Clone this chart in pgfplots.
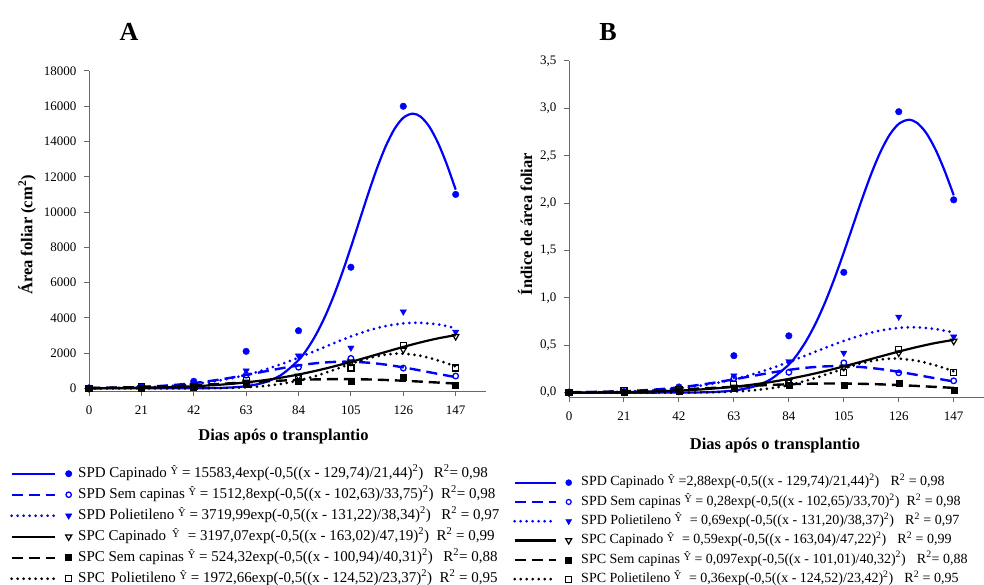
\documentclass[border=0pt]{standalone}
\usepackage{fontspec}
\setmainfont{Liberation Serif}
\usepackage{pgfplots}
\pgfplotsset{compat=1.18}

\definecolor{axisgray}{RGB}{105,105,105}
\definecolor{spdblue}{RGB}{0,0,255}

\newcommand\yhat{\raisebox{0.45ex}{\fontsize{10.5}{10.5}\selectfont Ŷ}}
\newcommand\sq{\textsuperscript{2}}

\pgfplotsset{
  growth/.style={
    scale only axis,
    axis lines=left,
    axis line style={-, axisgray, line width=1pt},
    tick style={axisgray, line width=1pt},
    tick align=outside,
    major tick length=5pt,
    clip=false,
    xmin=0, xmax=159,
    xtick={0,21,42,63,84,105,126,147},
    scaled ticks=false,
    /pgf/number format/assume math mode=true,
    tick label style={font=\fontsize{13}{13}\selectfont},
    xticklabel style={yshift=-6pt},
    yticklabel style={xshift=-4pt},
    label style={font=\bfseries\fontsize{16.5}{16.5}\selectfont},
    legend cell align=left,
  },
  % fitted curves
  spdcap/.style={spdblue, line width=2.2pt, smooth},
  spdsem/.style={spdblue, line width=2.4pt, dash pattern=on 11pt off 6pt, smooth},
  spdpol/.style={spdblue, line width=3pt, line cap=round, dash pattern=on 0pt off 6pt, smooth},
  spccap/.style={black, line width=2.2pt, smooth},
  spcsem/.style={black, line width=2.4pt, dash pattern=on 11pt off 6pt, smooth},
  spcpol/.style={black, line width=3pt, line cap=round, dash pattern=on 0pt off 6pt, smooth},
  % observed means
  mspdcap/.style={only marks, mark=*, mark size=3.3pt, mark options={spdblue, fill=spdblue, solid}},
  mspdsem/.style={only marks, mark=o, mark size=2.8pt, mark options={spdblue, fill=white, line width=1.3pt, solid}},
  mspdpol/.style={only marks, mark=triangle*, mark size=3.7pt, mark options={spdblue, fill=spdblue, rotate=180, solid}},
  mspccap/.style={only marks, mark=triangle, mark size=3.7pt, mark options={black, fill=white, line width=1.2pt, rotate=180, solid}},
  mspcsem/.style={only marks, mark=square*, mark size=3pt, mark options={black, fill=black, solid}},
  mspcpol/.style={only marks, mark=square, mark size=3pt, mark options={black, fill=white, line width=1.2pt, solid}},
}

\begin{document}
\begin{tikzpicture}
\useasboundingbox (0pt,0pt) rectangle (984pt,584pt);

\node[font=\bfseries\fontsize{26}{26}\selectfont] at (129pt,552pt) {A};
\node[font=\bfseries\fontsize{26}{26}\selectfont] at (608pt,552pt) {B};

% ---------------- A: leaf area ----------------
\begin{axis}[growth,
  at={(89pt,193pt)}, anchor=south west,
  width=396.6pt, height=320pt,
  ymin=-150, ymax=18000,
  ytick={0,2000,4000,6000,8000,10000,12000,14000,16000,18000},
  /pgf/number format/1000 sep={},
  xlabel={Dias após o transplantio},
  ylabel={Área foliar (cm\textsuperscript{2})},
  xlabel style={at={(axis description cs:0.4904,-0.1428)}, anchor=center},
  ylabel style={at={(axis description cs:-0.156,0.4875)}, anchor=center},
  legend style={at={(axis description cs:-0.1992,-0.236)}, anchor=north west,
    draw=none, fill=none, inner sep=0pt, row sep=7pt,
    font=\fontsize{15}{15}\selectfont,
    nodes={inner sep=0pt, text height=10.5pt, text depth=3.5pt}},
  legend image code/.code={
    \draw[#1, mark=none] (0pt,0pt) -- (43pt,0pt);
    \draw[#1, solid] plot coordinates {(57pt,0pt)};
    \path (65pt,0pt);
  },
]
\addplot[spdcap, forget plot] coordinates {(0,0)(7,0)(14,0)(21,0.04)(28,0.2)(35,0.9)(42,3.6)(49,13)(56,42)(63,123)(70,321)(77,756)(84,1601)(87.5,2238)(91,3046)(94.5,4036)(98,5209)(101.5,6545)(105,8008)(108.5,9540)(112,11066)(115.5,12499)(119,13745)(122.5,14720)(126,15348)(129.74,15583)(133,15404)(136.5,14828)(140,13897)(143.5,12683)(147,11271)};
\addplot[spdsem, forget plot] coordinates {(0,14.9)(7,27.3)(14,48.1)(21,81.2)(28,131.2)(35,203.1)(42,301.3)(49,428.0)(56,582.5)(63,759.2)(70,948.0)(77,1133.9)(84,1299.0)(91,1425.6)(98,1498.6)(102.63,1512.8)(105,1509.1)(112,1455.6)(119,1345.0)(126,1190.3)(133,1009.1)(140,819.5)(147,637.5)};
\addplot[spdpol, forget plot] coordinates {(0,10.6)(7,19.5)(14,34.7)(21,59.7)(28,99.2)(35,159.6)(42,248.1)(49,373.3)(56,542.9)(63,763.9)(70,1039.7)(77,1368.5)(84,1742.5)(91,2145.7)(98,2555.6)(105,2944.2)(112,3280.6)(119,3535.8)(126,3685.7)(131.22,3720.0)(133,3716.0)(140,3623.7)(147,3417.9)};
\addplot[spccap, forget plot] coordinates {(0,8.2)(7,13.5)(14,21.8)(21,34.5)(28,53.3)(35,80.6)(42,119.3)(49,172.6)(56,244.2)(63,338.3)(70,458.1)(77,607.0)(84,786.8)(91,997.6)(98,1237.4)(105,1501.4)(112,1782.1)(119,2069.2)(126,2350.2)(133,2611.3)(140,2838.4)(147,3018.0)};
\addplot[spcsem, forget plot] coordinates {(0,22.8)(7,34.7)(14,51.2)(21,73.4)(28,102.0)(35,137.6)(42,180.0)(49,228.6)(56,281.6)(63,336.7)(70,390.6)(77,439.5)(84,480.0)(91,508.6)(98,522.9)(100.94,524.3)(105,521.7)(112,505.0)(119,474.2)(126,432.2)(133,382.1)(140,327.9)(147,272.9)};
\addplot[spcpol, forget plot] coordinates {(0,0)(7,0)(14,0)(21,0.1)(28,0.4)(35,1.3)(42,3.9)(49,10.6)(56,26.8)(63,61.8)(70,129.8)(77,249.6)(84,438.8)(91,705.2)(98,1036.1)(105,1391.7)(112,1708.9)(119,1918.4)(124.52,1972.7)(126,1968.7)(133,1847.0)(140,1584.0)(147,1242.0)};

\addplot[mspdcap, forget plot] coordinates {(0,20)(21,80)(42,400)(63,2100)(84,3270)(105,6870)(126,16000)(147,11000)};
\addplot[mspdsem, forget plot] coordinates {(0,20)(21,70)(42,250)(63,750)(84,1200)(105,1700)(126,1150)(147,700)};
\addplot[mspdpol, forget plot] coordinates {(0,20)(21,60)(42,200)(63,1000)(84,1850)(105,2300)(126,4350)(147,3200)};
\addplot[mspccap, forget plot] coordinates {(0,10)(21,40)(42,150)(63,350)(84,700)(105,1500)(126,2200)(147,2950)};
\addplot[mspcsem, forget plot] coordinates {(0,10)(21,30)(42,100)(63,250)(84,430)(105,430)(126,650)(147,190)};
\addplot[mspcpol, forget plot] coordinates {(0,10)(21,120)(42,80)(63,430)(84,550)(105,1150)(126,2450)(147,1150)};

\addlegendimage{spdblue, line width=2.2pt, mark=*, mark size=3.2pt, mark options={solid, fill=spdblue, line width=0.5pt}}
\addlegendentry{SPD Capinado \yhat{} = 15583,4exp(-0,5((x - 129,74)/21,44)\sq)\hspace{0.7em}R\sq= 0,98}
\addlegendimage{spdblue, line width=2.4pt, dash pattern=on 11pt off 6pt, mark=o, mark size=2.7pt, mark options={solid, fill=white, line width=1.3pt}}
\addlegendentry{SPD Sem capinas \yhat{} = 1512,8exp(-0,5((x - 102,63)/33,75)\sq)\hspace{0.5em}R\sq= 0,98}
\addlegendimage{spdblue, line width=3pt, line cap=round, dash pattern=on 0pt off 6pt, mark=triangle*, mark size=3.6pt, mark options={solid, rotate=180, fill=spdblue, line width=0.5pt}}
\addlegendentry{SPD Polietileno \yhat{} = 3719,99exp(-0,5((x - 131,22)/38,34)\sq)\hspace{0.7em}R\sq{} = 0,97}
\addlegendimage{black, line width=2.2pt, mark=triangle, mark size=3.6pt, mark options={solid, rotate=180, fill=white, line width=1.2pt}}
\addlegendentry{SPC Capinado\hspace{0.4em}\yhat{}\hspace{0.3em} = 3197,07exp(-0,5((x - 163,02)/47,19)\sq)\hspace{0.5em}R\sq{} = 0,99}
\addlegendimage{black, line width=2.4pt, dash pattern=on 11pt off 6pt, mark=square*, mark size=3pt, mark options={solid, fill=black, line width=0.5pt}}
\addlegendentry{SPC Sem capinas \yhat{} = 524,32exp(-0,5((x - 100,94)/40,31)\sq)\hspace{0.7em}R\sq= 0,88}
\addlegendimage{black, line width=3pt, line cap=round, dash pattern=on 0pt off 6pt, mark=square, mark size=3pt, mark options={solid, fill=white, line width=1.2pt}}
\addlegendentry{SPC\hspace{0.4em}Polietileno \yhat{} = 1972,66exp(-0,5((x - 124,52)/23,37)\sq)\hspace{0.5em}R\sq{} = 0,95}
\end{axis}

% ---------------- B: leaf area index ----------------
\begin{axis}[growth,
  at={(569pt,186.6pt)}, anchor=south west,
  width=416.1pt, height=336.4pt,
  ymin=-0.05, ymax=3.5,
  ytick={0,0.5,1,1.5,2,2.5,3,3.5},
  yticklabel style={/pgf/number format/fixed, /pgf/number format/fixed zerofill, /pgf/number format/precision=1, /pgf/number format/use comma},
  xlabel={Dias após o transplantio},
  ylabel={Índice de área foliar},
  xlabel style={at={(axis description cs:0.495,-0.1436)}, anchor=center},
  ylabel style={at={(axis description cs:-0.1057,0.5155)}, anchor=center},
  legend style={at={(axis description cs:-0.1682,-0.2241)}, anchor=north west,
    draw=none, fill=white, inner xsep=14pt, inner ysep=3pt, row sep=6pt,
    font=\fontsize{14}{14}\selectfont,
    nodes={inner sep=0pt, text height=10pt, text depth=3.3pt}},
  legend image code/.code={
    \draw[#1, mark=none] (0pt,0pt) -- (41pt,0pt);
    \draw[#1, solid] plot coordinates {(54pt,0pt)};
    \path (65pt,0pt);
  },
]
\addplot[spdcap, forget plot] coordinates {(0,0)(7,0)(14,0)(21,0)(28,0.0001)(35,0.0002)(42,0.0007)(49,0.0024)(56,0.0078)(63,0.0227)(70,0.0594)(77,0.1398)(84,0.2959)(87.5,0.4135)(91,0.5629)(94.5,0.7459)(98,0.9627)(101.5,1.2096)(105,1.4800)(108.5,1.7632)(112,2.0452)(115.5,2.3099)(119,2.5403)(122.5,2.7204)(126,2.8365)(129.74,2.88)(133,2.8469)(136.5,2.7403)(140,2.5684)(143.5,2.3439)(147,2.0830)};
\addplot[spdsem, forget plot] coordinates {(0,0.0027)(7,0.0051)(14,0.0089)(21,0.0150)(28,0.0243)(35,0.0376)(42,0.0558)(49,0.0792)(56,0.1078)(63,0.1405)(70,0.1755)(77,0.2099)(84,0.2404)(91,0.2639)(98,0.2774)(102.65,0.28)(105,0.2793)(112,0.2694)(119,0.2489)(126,0.2203)(133,0.1868)(140,0.1517)(147,0.1180)};
\addplot[spdpol, forget plot] coordinates {(0,0.0020)(7,0.0036)(14,0.0064)(21,0.0111)(28,0.0184)(35,0.0296)(42,0.0460)(49,0.0692)(56,0.1007)(63,0.1417)(70,0.1928)(77,0.2538)(84,0.3232)(91,0.3980)(98,0.4740)(105,0.5461)(112,0.6085)(119,0.6558)(126,0.6836)(131.2,0.69)(133,0.6893)(140,0.6721)(147,0.6340)};
\addplot[spccap, forget plot] coordinates {(0,0.0015)(7,0.0025)(14,0.0040)(21,0.0064)(28,0.0098)(35,0.0149)(42,0.0220)(49,0.0318)(56,0.0451)(63,0.0624)(70,0.0845)(77,0.1120)(84,0.1452)(91,0.1841)(98,0.2284)(105,0.2771)(112,0.3289)(119,0.3819)(126,0.4337)(133,0.4819)(140,0.5238)(147,0.5570)};
\addplot[spcsem, forget plot] coordinates {(0,0.0042)(7,0.0064)(14,0.0095)(21,0.0136)(28,0.0189)(35,0.0255)(42,0.0333)(49,0.0423)(56,0.0521)(63,0.0623)(70,0.0723)(77,0.0813)(84,0.0888)(91,0.0941)(98,0.0967)(101,0.097)(105,0.0965)(112,0.0934)(119,0.0877)(126,0.0800)(133,0.0707)(140,0.0607)(147,0.0505)};
\addplot[spcpol, forget plot] coordinates {(0,0)(7,0)(14,0)(21,0)(28,0.0001)(35,0.0002)(42,0.0007)(49,0.0019)(56,0.0049)(63,0.0113)(70,0.0237)(77,0.0456)(84,0.0801)(91,0.1287)(98,0.1891)(105,0.2540)(112,0.3119)(119,0.3501)(124.52,0.36)(126,0.3593)(133,0.3371)(140,0.2891)(147,0.2267)};

\addplot[mspdcap, forget plot] coordinates {(0,0.005)(21,0.01)(42,0.06)(63,0.39)(84,0.60)(105,1.27)(126,2.965)(147,2.035)};
\addplot[mspdsem, forget plot] coordinates {(0,0.005)(21,0.01)(42,0.04)(63,0.15)(84,0.215)(105,0.315)(126,0.21)(147,0.125)};
\addplot[mspdpol, forget plot] coordinates {(0,0.005)(21,0.01)(42,0.04)(63,0.18)(84,0.33)(105,0.42)(126,0.80)(147,0.59)};
\addplot[mspccap, forget plot] coordinates {(0,0.002)(21,0.01)(42,0.02)(63,0.06)(84,0.12)(105,0.27)(126,0.42)(147,0.545)};
\addplot[mspcsem, forget plot] coordinates {(0,0.002)(21,0.005)(42,0.02)(63,0.05)(84,0.08)(105,0.08)(126,0.105)(147,0.03)};
\addplot[mspcpol, forget plot] coordinates {(0,0.002)(21,0.02)(42,0.03)(63,0.085)(84,0.095)(105,0.21)(126,0.455)(147,0.21)};

\addlegendimage{spdblue, line width=2.2pt, mark=*, mark size=3pt, mark options={solid, fill=spdblue, line width=0.5pt}}
\addlegendentry{SPD Capinado \yhat{} =2,88exp(-0,5((x - 129,74)/21,44)\sq)\hspace{0.8em}R\sq{} = 0,98}
\addlegendimage{spdblue, line width=2.4pt, dash pattern=on 11pt off 6pt, mark=o, mark size=2.5pt, mark options={solid, fill=white, line width=1.2pt}}
\addlegendentry{SPD Sem capinas \yhat{} = 0,28exp(-0,5((x - 102,65)/33,70)\sq)\hspace{0.5em}R\sq{} = 0,98}
\addlegendimage{spdblue, line width=3pt, line cap=round, dash pattern=on 0pt off 6pt, mark=triangle*, mark size=3.4pt, mark options={solid, rotate=180, fill=spdblue, line width=0.5pt}}
\addlegendentry{SPD Polietileno \yhat{}\hspace{0.3em} = 0,69exp(-0,5((x - 131,20)/38,37)\sq)\hspace{0.8em}R\sq{} = 0,97}
\addlegendimage{black, line width=2.2pt, mark=triangle, mark size=3.4pt, mark options={solid, rotate=180, fill=white, line width=1.2pt}}
\addlegendentry{SPC Capinado \yhat{}\hspace{0.3em} = 0,59exp(-0,5((x - 163,04)/47,22)\sq)\hspace{0.8em}R\sq{} = 0,99}
\addlegendimage{black, line width=2.4pt, dash pattern=on 11pt off 6pt, mark=square*, mark size=3pt, mark options={solid, fill=black, line width=0.5pt}}
\addlegendentry{SPC Sem capinas \yhat{} = 0,097exp(-0,5((x - 101,01)/40,32)\sq)\hspace{0.8em}R\sq= 0,88}
\addlegendimage{black, line width=3pt, line cap=round, dash pattern=on 0pt off 6pt, mark=square, mark size=3pt, mark options={solid, fill=white, line width=1.2pt}}
\addlegendentry{SPC Polietileno \yhat{}\hspace{0.3em} = 0,36exp(-0,5((x - 124,52)/23,42)\sq)\hspace{0.8em}R\sq{} = 0,95}
\end{axis}
\end{tikzpicture}
\end{document}
